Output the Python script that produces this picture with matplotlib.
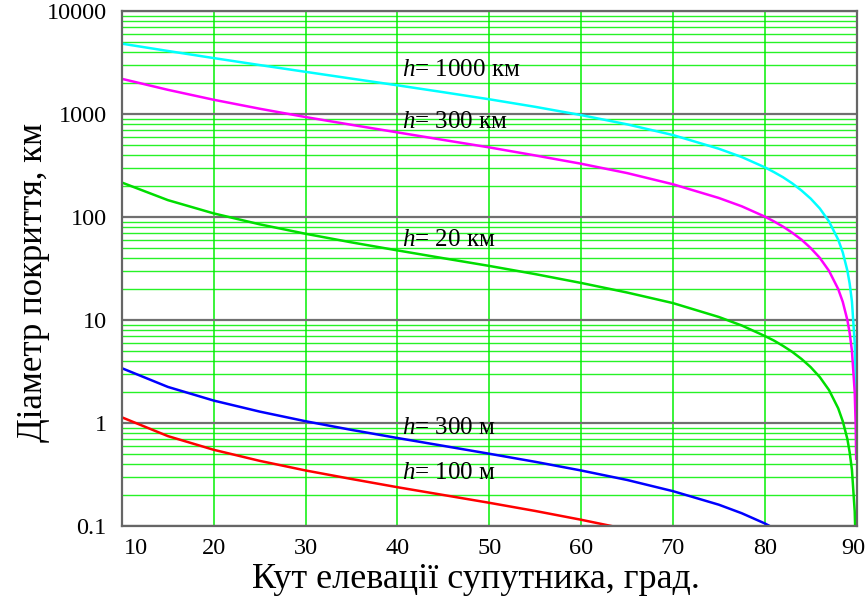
import matplotlib
matplotlib.use("Agg")
import matplotlib.pyplot as plt
import matplotlib.transforms as mtransforms
from matplotlib.ticker import LogLocator, NullFormatter

plt.rcParams['font.family'] = ['Liberation Serif', 'DejaVu Serif']
plt.rcParams['mathtext.fontset'] = 'custom'
plt.rcParams['mathtext.it'] = 'Liberation Serif:italic'
plt.rcParams['mathtext.rm'] = 'Liberation Serif'

# elevation angles, degrees
elev = [10, 15, 20, 25, 30, 35, 40, 45, 50, 55, 60, 65, 70, 75, 77.5, 80,
        81, 82, 83, 84, 85, 86, 87, 88, 88.5, 89, 89.25, 89.5, 89.8, 89.9, 89.96]
# coverage diameters, km
d_1000km = [4817, 4092, 3489, 2987, 2566, 2206, 1899, 1628, 1390, 1174, 976, 794, 625, 460, 382, 304,
            273, 243, 212, 181, 151, 121, 90.5, 60.4, 45.3, 30.2, 22.6, 15.1, 6.0, 3.0, 1.3]
d_300km = [2193, 1717, 1374, 1125, 934, 785, 663, 560, 474, 396, 329, 267, 208, 153, 127, 101,
           90.7, 80.6, 70.3, 60.3, 50.0, 40.1, 30.0, 20.0, 15.0, 10.0, 7.5, 5.0, 2.0, 1.0, 0.45]
d_20km = [215.8, 145.8, 108.3, 84.9, 68.7, 56.7, 47.4, 39.8, 33.5, 27.9, 22.9, 18.5, 14.6, 10.7, 8.84, 7.0,
          6.32, 5.6, 4.90, 4.19, 3.49, 2.79, 2.09, 1.39, 1.04, 0.70, 0.52, 0.35, 0.139, 0.07, 0.028]
elev_low = [10, 15, 20, 25, 30, 35, 40, 45, 50, 55, 60, 65, 70, 75, 77.5, 80, 81, 82]
d_300m = [3.40, 2.24, 1.65, 1.29, 1.04, 0.857, 0.715, 0.600, 0.503, 0.420, 0.346, 0.280, 0.218, 0.161,
          0.133, 0.106, 0.095, 0.084]
d_100m = [1.134, 0.746, 0.549, 0.429, 0.346, 0.286, 0.238, 0.200, 0.168, 0.140, 0.115, 0.093]

labels = ['$\\mathit{h}$= 1000 км', '$\\mathit{h}$= 300 км', '$\\mathit{h}$= 20 км',
          '$\\mathit{h}$= 300 м', '$\\mathit{h}$= 100 м']
label_x = [40.5, 40.5, 40.5, 40.5, 40.5]
label_y = [2674, 836, 60, 0.893, 0.327]

xticks = [10, 20, 30, 40, 50, 60, 70, 80, 90]
yticks = [0.1, 1, 10, 100, 1000, 10000]
ytick_labels = ['0.1', '1', '10', '100', '1000', '10000']

fig = plt.figure(figsize=(8.66, 6.04), dpi=100)
ax = fig.add_axes([122/866, 1-526/604, (857-122)/866, (526-11)/604])
ax.set_yscale('log')
ax.set_xlim(10, 90.05)
ax.set_ylim(0.1, 10000)

# grid
ax.yaxis.set_minor_locator(LogLocator(base=10, subs=[2, 3, 4, 5, 6, 7, 8, 9]))
ax.yaxis.set_minor_formatter(NullFormatter())
ax.set_yticks(yticks)
ax.set_yticklabels(ytick_labels)
ax.set_xticks(xticks)
ax.set_xticklabels([str(v) for v in xticks])
ax.grid(which='minor', axis='y', color='#00f000', lw=1.0, alpha=0.85)
ax.grid(which='major', axis='x', color='#00f000', lw=1.2, alpha=0.9)
ax.grid(which='major', axis='y', color='#707070', lw=1.6)
ax.set_axisbelow(True)

ax.tick_params(which='both', length=0, labelsize=17.5, colors='black')
ax.tick_params(axis='y', pad=11)
ax.tick_params(axis='x', pad=9)

for s in ax.spines.values():
    s.set_color('#666666')
    s.set_linewidth(1.6)

lw = 1.8
ax.plot(elev, d_1000km, color='#00ffff', lw=lw)
ax.plot(elev, d_300km, color='#ff00ff', lw=lw)
ax.plot(elev, d_20km, color='#00dd00', lw=lw)
ax.plot(elev_low, d_300m, color='#0000ff', lw=lw)
ax.plot(elev_low[:len(d_100m)], d_100m, color='#ff0000', lw=lw)

for t, x, y in zip(labels, label_x, label_y):
    ax.text(x, y, t, fontsize=18, ha='left', va='center')

# shift edge tick labels inward
xt = ax.get_xticklabels()
xt[0].set_transform(xt[0].get_transform() + mtransforms.ScaledTranslation(14/100, 0, fig.dpi_scale_trans))
xt[-1].set_transform(xt[-1].get_transform() + mtransforms.ScaledTranslation(-3/100, 0, fig.dpi_scale_trans))

ax.set_xlabel('Кут елевації супутника, град.', fontsize=26)
ax.set_ylabel('Діаметр покриття, км', fontsize=25)
ax.xaxis.label.set_va('center')
ax.yaxis.label.set_va('center')
ax.xaxis.set_label_coords((476 - 122) / 735, (526 - 580) / 515)
ax.yaxis.set_label_coords((34 - 122) / 735, (526 - 282) / 515)

fig.savefig('out.png', dpi=100)
